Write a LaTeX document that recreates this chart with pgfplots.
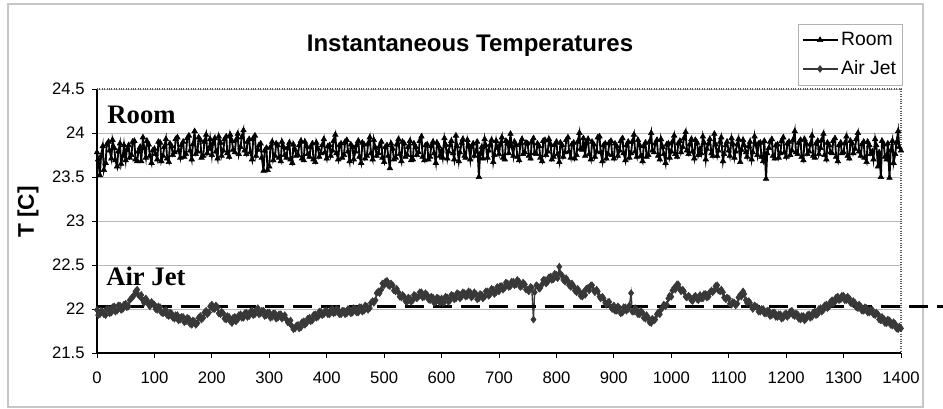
\documentclass[border=0pt]{standalone}
\usepackage{fontspec}
\setmainfont{Liberation Sans}
\newfontfamily\serifbold{Liberation Serif}
\usepackage{pgfplots}
\usepackage{pgfplotstable}
\pgfplotsset{compat=1.18}

% time [s], room temperature, air jet temperature
\pgfplotstableread[row sep=\\]{
x room jet\\
0 23.78 21.99\\ 2 23.70 21.93\\ 5 23.52 21.94\\ 7 23.74 21.98\\
10 23.85 21.97\\ 12 23.58 21.94\\ 15 23.66 21.93\\ 17 23.87 22.00\\
20 23.90 22.00\\ 22 23.80 21.95\\ 25 23.71 21.96\\ 27 23.92 22.02\\
30 23.83 22.03\\ 32 23.69 21.97\\ 35 23.62 21.98\\ 37 23.79 22.04\\
40 23.88 22.04\\ 42 23.65 21.99\\ 45 23.74 22.00\\ 47 23.86 22.05\\
50 23.69 22.06\\ 52 23.81 22.02\\ 55 23.86 22.03\\ 57 23.72 22.10\\
60 23.75 22.12\\ 62 23.90 22.14\\ 65 23.91 22.16\\ 67 23.70 22.20\\
70 23.68 22.22\\ 72 23.79 22.16\\ 75 23.84 22.14\\ 77 23.68 22.16\\
80 23.95 22.10\\ 82 23.83 22.07\\ 85 23.72 22.12\\ 87 23.91 22.10\\
90 23.87 22.05\\ 92 23.74 22.03\\ 95 23.66 22.08\\ 97 23.80 22.06\\
100 23.82 22.05\\ 102 23.76 22.00\\ 105 23.70 21.99\\ 107 23.90 22.03\\
110 23.89 22.02\\ 112 23.68 21.96\\ 115 23.74 21.95\\ 117 23.84 21.98\\
120 23.93 21.99\\ 122 23.71 21.93\\ 125 23.67 21.92\\ 127 23.88 21.96\\
130 23.85 21.95\\ 132 23.75 21.90\\ 135 23.78 21.89\\ 137 23.93 21.93\\
140 23.95 21.93\\ 142 23.80 21.87\\ 145 23.72 21.88\\ 147 23.86 21.91\\
150 23.90 21.91\\ 152 23.73 21.85\\ 155 23.76 21.86\\ 157 23.94 21.90\\
160 23.97 21.89\\ 162 23.80 21.83\\ 165 23.70 21.82\\ 167 23.87 21.87\\
170 24.02 21.86\\ 172 23.76 21.82\\ 175 23.79 21.84\\ 177 23.95 21.90\\
180 23.92 21.92\\ 182 23.72 21.88\\ 185 23.74 21.90\\ 187 23.90 21.96\\
190 23.98 21.98\\ 192 23.77 21.94\\ 195 23.82 21.96\\ 197 23.93 22.03\\
200 23.75 22.05\\ 202 23.88 22.00\\ 205 23.94 22.00\\ 207 23.79 22.04\\
210 23.71 22.02\\ 212 23.96 21.95\\ 215 23.89 21.94\\ 217 23.74 21.97\\
220 23.80 21.95\\ 222 23.93 21.89\\ 225 23.96 21.88\\ 227 23.77 21.92\\
230 23.73 21.91\\ 232 23.98 21.86\\ 235 23.91 21.84\\ 237 23.81 21.90\\
240 23.78 21.91\\ 242 23.92 21.86\\ 245 23.99 21.88\\ 247 23.76 21.93\\
250 23.84 21.94\\ 252 23.95 21.90\\ 255 24.03 21.90\\ 257 23.80 21.95\\
260 23.76 21.96\\ 262 23.90 21.91\\ 265 23.93 21.92\\ 267 23.78 21.97\\
270 23.70 21.98\\ 272 23.94 21.93\\ 275 23.97 21.94\\ 277 23.74 21.99\\
280 23.81 22.01\\ 282 23.86 21.94\\ 285 23.88 21.95\\ 287 23.72 21.98\\
290 23.57 21.98\\ 292 23.80 21.92\\ 295 23.83 21.93\\ 297 23.58 21.96\\
300 23.62 21.96\\ 302 23.84 21.90\\ 305 23.90 21.91\\ 307 23.69 21.95\\
310 23.74 21.95\\ 312 23.88 21.89\\ 315 23.86 21.90\\ 317 23.72 21.94\\
320 23.68 21.94\\ 322 23.90 21.89\\ 325 23.84 21.91\\ 327 23.75 21.93\\
330 23.72 21.88\\ 332 23.83 21.85\\ 335 23.89 21.84\\ 337 23.70 21.87\\
340 23.66 21.80\\ 342 23.87 21.77\\ 345 23.81 21.78\\ 347 23.74 21.81\\
350 23.75 21.82\\ 352 23.86 21.78\\ 355 23.91 21.79\\ 357 23.71 21.85\\
360 23.69 21.86\\ 362 23.90 21.82\\ 365 23.85 21.84\\ 367 23.76 21.89\\
370 23.73 21.90\\ 372 23.84 21.86\\ 375 23.88 21.87\\ 377 23.70 21.93\\
380 23.67 21.94\\ 382 23.89 21.90\\ 385 23.82 21.91\\ 387 23.73 21.97\\
390 23.77 21.97\\ 392 23.86 21.93\\ 395 23.93 21.94\\ 397 23.78 21.98\\
400 23.71 21.98\\ 402 23.85 21.94\\ 405 23.86 21.94\\ 407 23.74 21.99\\
410 23.80 22.00\\ 412 23.91 21.95\\ 415 23.98 21.96\\ 417 23.77 22.00\\
420 23.70 21.99\\ 422 23.86 21.94\\ 425 23.88 21.94\\ 427 23.72 21.98\\
430 23.75 21.98\\ 432 23.90 21.94\\ 435 23.92 21.95\\ 437 23.79 22.00\\
440 23.68 21.99\\ 442 23.87 21.95\\ 445 23.84 21.96\\ 447 23.70 22.01\\
450 23.79 22.00\\ 452 23.86 21.96\\ 455 23.91 21.96\\ 457 23.73 22.02\\
460 23.66 22.02\\ 462 23.89 21.97\\ 465 23.87 21.98\\ 467 23.71 22.04\\
470 23.74 22.03\\ 472 23.88 21.99\\ 475 23.95 22.01\\ 477 23.77 22.07\\
480 23.70 22.09\\ 482 23.92 22.07\\ 485 23.83 22.10\\ 487 23.74 22.18\\
490 23.77 22.20\\ 492 23.85 22.18\\ 495 23.90 22.22\\ 497 23.72 22.29\\
500 23.67 22.27\\ 502 23.84 22.31\\ 505 23.86 22.32\\ 507 23.74 22.27\\
510 23.60 22.26\\ 512 23.88 22.29\\ 515 23.82 22.27\\ 517 23.70 22.21\\
520 23.72 22.20\\ 522 23.87 22.23\\ 525 23.93 22.19\\ 527 23.76 22.14\\
530 23.68 22.13\\ 532 23.90 22.16\\ 535 23.88 22.14\\ 537 23.73 22.09\\
540 23.75 22.08\\ 542 23.84 22.13\\ 545 23.91 22.12\\ 547 23.69 22.08\\
550 23.70 22.10\\ 552 23.88 22.16\\ 555 23.84 22.15\\ 557 23.75 22.12\\
560 23.78 22.14\\ 562 23.91 22.19\\ 565 23.96 22.19\\ 567 23.73 22.13\\
570 23.69 22.14\\ 572 23.86 22.18\\ 575 23.87 22.16\\ 577 23.70 22.11\\
580 23.73 22.10\\ 582 23.85 22.14\\ 585 23.90 22.13\\ 587 23.77 22.07\\
590 23.66 22.08\\ 592 23.89 22.13\\ 595 23.85 22.12\\ 597 23.74 22.07\\
600 23.80 22.12\\ 602 23.72 22.07\\ 605 23.94 22.08\\ 607 23.87 22.14\\
610 23.71 22.13\\ 612 23.79 22.08\\ 615 23.86 22.10\\ 617 23.91 22.16\\
620 23.77 22.15\\ 622 23.70 22.11\\ 625 23.97 22.12\\ 627 23.85 22.18\\
630 23.68 22.17\\ 632 23.78 22.12\\ 635 23.89 22.14\\ 637 23.93 22.19\\
640 23.74 22.18\\ 642 23.72 22.14\\ 645 23.92 22.15\\ 647 23.86 22.20\\
650 23.70 22.19\\ 652 23.84 22.13\\ 655 23.88 22.15\\ 657 23.74 22.19\\
660 23.79 22.17\\ 662 23.90 22.11\\ 665 23.50 22.12\\ 667 23.76 22.17\\
670 23.84 22.16\\ 672 23.71 22.12\\ 675 23.93 22.14\\ 677 23.86 22.20\\
680 23.72 22.20\\ 682 23.80 22.15\\ 685 23.87 22.17\\ 687 23.92 22.23\\
690 23.67 22.22\\ 692 23.75 22.17\\ 695 23.91 22.19\\ 697 23.83 22.25\\
700 23.76 22.20\\ 702 23.87 22.26\\ 705 23.95 22.26\\ 707 23.72 22.22\\
710 23.70 22.24\\ 712 23.91 22.30\\ 715 23.89 22.29\\ 717 23.77 22.25\\
720 23.99 22.26\\ 722 23.85 22.31\\ 725 23.74 22.31\\ 727 23.90 22.27\\
730 23.86 22.28\\ 732 23.73 22.33\\ 735 23.69 22.31\\ 737 23.88 22.25\\
740 23.93 22.26\\ 742 23.76 22.30\\ 745 23.78 22.28\\ 747 23.89 22.22\\
750 23.88 22.22\\ 752 23.74 22.20\\ 755 23.71 22.25\\ 757 23.90 22.24\\
760 23.94 21.88\\ 762 23.77 22.19\\ 765 23.76 22.27\\ 767 23.88 22.26\\
770 23.85 22.23\\ 772 23.72 22.24\\ 775 23.68 22.28\\ 777 23.91 22.33\\
780 23.92 22.33\\ 782 23.75 22.29\\ 785 23.79 22.31\\ 787 23.93 22.36\\
790 23.87 22.37\\ 792 23.70 22.33\\ 795 23.73 22.34\\ 797 23.86 22.40\\
800 23.90 22.39\\ 802 23.76 22.35\\ 805 23.67 22.48\\ 807 23.89 22.40\\
810 23.86 22.38\\ 812 23.73 22.33\\ 815 23.78 22.31\\ 817 23.92 22.35\\
820 23.95 22.32\\ 822 23.79 22.27\\ 825 23.72 22.25\\ 827 23.87 22.29\\
830 23.89 22.26\\ 832 23.71 22.21\\ 835 23.75 22.19\\ 837 23.90 22.23\\
840 24.00 22.20\\ 842 23.82 22.15\\ 845 23.81 22.14\\ 847 23.94 22.19\\
850 23.74 22.16\\ 852 23.88 22.23\\ 855 23.93 22.24\\ 857 23.76 22.21\\
860 23.70 22.27\\ 862 23.90 22.27\\ 865 23.87 22.21\\ 867 23.73 22.19\\
870 23.79 22.22\\ 872 23.95 22.20\\ 875 23.96 22.14\\ 877 23.78 22.12\\
880 23.68 22.14\\ 882 23.86 22.12\\ 885 23.88 22.07\\ 887 23.71 22.05\\
890 23.76 22.08\\ 892 23.89 22.08\\ 895 23.91 22.02\\ 897 23.75 22.00\\
900 23.71 22.04\\ 902 23.88 21.98\\ 905 23.85 21.98\\ 907 23.74 22.03\\
910 23.80 22.01\\ 912 23.91 21.95\\ 915 23.94 21.96\\ 917 23.77 22.02\\
920 23.69 22.02\\ 922 23.86 21.98\\ 925 23.90 22.00\\ 927 23.72 22.04\\
930 23.77 22.18\\ 932 23.90 21.97\\ 935 23.98 21.97\\ 937 23.79 22.01\\
940 23.73 21.99\\ 942 23.92 21.94\\ 945 23.86 21.94\\ 947 23.74 21.98\\
950 23.68 21.96\\ 952 23.85 21.90\\ 955 23.89 21.89\\ 957 23.73 21.93\\
960 23.75 21.90\\ 962 23.90 21.85\\ 965 24.00 21.84\\ 967 23.80 21.89\\
970 23.78 21.87\\ 972 23.88 21.88\\ 975 23.92 21.94\\ 977 23.74 21.96\\
980 23.70 21.94\\ 982 23.93 21.99\\ 985 23.84 22.02\\ 987 23.76 22.05\\
990 23.66 22.03\\ 992 23.87 22.05\\ 995 23.88 22.12\\ 997 23.72 22.15\\
1000 23.79 22.14\\ 1002 23.90 22.21\\ 1005 23.97 22.24\\ 1007 23.76 22.22\\
1010 23.73 22.28\\ 1012 23.88 22.28\\ 1015 23.91 22.23\\ 1017 23.78 22.20\\
1020 23.84 22.22\\ 1022 23.94 22.20\\ 1025 24.01 22.14\\ 1027 23.80 22.13\\
1030 23.76 22.15\\ 1032 23.87 22.14\\ 1035 23.93 22.10\\ 1037 23.79 22.09\\
1040 23.71 22.14\\ 1042 23.92 22.15\\ 1045 23.89 22.11\\ 1047 23.75 22.10\\
1050 23.82 22.16\\ 1052 23.77 22.12\\ 1055 23.96 22.12\\ 1057 23.89 22.17\\
1060 23.70 22.17\\ 1062 23.82 22.13\\ 1065 23.88 22.14\\ 1067 23.93 22.19\\
1070 23.77 22.21\\ 1072 23.74 22.19\\ 1075 23.99 22.21\\ 1077 23.87 22.26\\
1080 23.74 22.27\\ 1082 23.80 22.21\\ 1085 23.90 22.20\\ 1087 23.95 22.22\\
1090 23.68 22.19\\ 1092 23.76 22.13\\ 1095 23.86 22.11\\ 1097 23.90 22.13\\
1100 23.80 22.12\\ 1102 23.74 22.06\\ 1105 23.94 22.05\\ 1107 23.88 22.08\\
1110 23.72 22.07\\ 1112 23.79 22.04\\ 1115 23.87 22.06\\ 1117 23.93 22.13\\
1120 23.67 22.16\\ 1122 23.81 22.14\\ 1125 23.92 22.20\\ 1127 23.86 22.17\\
1130 23.78 22.10\\ 1132 23.73 22.07\\ 1135 23.85 22.09\\ 1137 23.90 22.07\\
1140 23.70 22.02\\ 1142 23.78 22.00\\ 1145 23.96 22.04\\ 1147 23.87 22.03\\
1150 23.75 22.02\\ 1152 23.88 21.97\\ 1155 23.89 21.97\\ 1157 23.73 22.00\\
1160 23.68 22.00\\ 1162 23.91 21.95\\ 1165 23.48 21.95\\ 1167 23.77 21.98\\
1170 23.83 21.98\\ 1172 23.90 21.92\\ 1175 23.93 21.93\\ 1177 23.74 21.96\\
1180 23.71 21.96\\ 1182 23.86 21.91\\ 1185 23.87 21.91\\ 1187 23.72 21.94\\
1190 23.77 21.94\\ 1192 23.91 21.89\\ 1195 23.95 21.90\\ 1197 23.78 21.94\\
1200 23.73 21.95\\ 1202 23.88 21.91\\ 1205 23.90 21.93\\ 1207 23.75 21.97\\
1210 23.80 21.98\\ 1212 23.92 21.93\\ 1215 24.02 21.92\\ 1217 23.78 21.95\\
1220 23.76 21.94\\ 1222 23.89 21.89\\ 1225 23.92 21.88\\ 1227 23.73 21.92\\
1230 23.69 21.92\\ 1232 23.93 21.87\\ 1235 23.88 21.89\\ 1237 23.76 21.93\\
1240 23.79 21.94\\ 1242 23.87 21.90\\ 1245 23.97 21.91\\ 1247 23.74 21.96\\
1250 23.72 21.97\\ 1252 23.88 21.93\\ 1255 23.91 21.94\\ 1257 23.76 22.00\\
1260 23.83 22.01\\ 1262 23.92 21.97\\ 1265 23.99 21.99\\ 1267 23.75 22.04\\
1270 23.70 22.05\\ 1272 23.89 22.01\\ 1275 23.86 22.03\\ 1277 23.78 22.08\\
1280 23.77 22.10\\ 1282 23.91 22.06\\ 1285 23.94 22.08\\ 1287 23.73 22.13\\
1290 23.68 22.14\\ 1292 23.86 22.10\\ 1295 23.89 22.11\\ 1297 23.77 22.15\\
1300 23.78 22.15\\ 1302 23.88 22.10\\ 1305 23.96 22.10\\ 1307 23.74 22.14\\
1310 23.71 22.12\\ 1312 23.91 22.07\\ 1315 23.88 22.06\\ 1317 23.77 22.09\\
1320 23.82 22.07\\ 1322 23.93 22.02\\ 1325 24.00 22.01\\ 1327 23.79 22.05\\
1330 23.74 22.03\\ 1332 23.87 21.98\\ 1335 23.90 21.98\\ 1337 23.72 22.02\\
1340 23.67 22.01\\ 1342 23.90 21.96\\ 1345 23.86 21.96\\ 1347 23.76 21.99\\
1350 23.79 21.99\\ 1352 23.70 21.94\\ 1355 23.93 21.93\\ 1357 23.86 21.96\\
1360 23.62 21.94\\ 1362 23.78 21.88\\ 1365 23.50 21.87\\ 1367 23.91 21.91\\
1370 23.87 21.89\\ 1372 23.73 21.84\\ 1375 23.70 21.84\\ 1377 23.88 21.88\\
1380 23.49 21.87\\ 1382 23.80 21.82\\ 1385 23.91 21.81\\ 1387 23.66 21.85\\
1390 23.76 21.83\\ 1392 23.89 21.78\\ 1395 24.02 21.77\\ 1397 23.84 21.80\\
1400 23.80 21.78\\
}\temps

\begin{document}
\begin{tikzpicture}
% page frame = 943 x 409 px at 0.75pt per px
\useasboundingbox (0,0) rectangle (707.25pt,306.75pt);
\draw[gray!45, line width=0.8pt] (6pt,1.5pt) rectangle (692.25pt,303.75pt);
\node[anchor=base, font=\bfseries\fontsize{18}{21}\selectfont] at (352.5pt,267.75pt) {Instantaneous Temperatures};
\node[rotate=90, font=\bfseries\fontsize{17}{20}\selectfont] at (21pt,147.75pt) {T [C]};
\begin{axis}[
    at={(72.75pt,42pt)}, anchor=south west,
    width=603pt, height=198pt, scale only axis,
    xmin=0, xmax=1400, ymin=21.5, ymax=24.5,
    xtick={0,100,...,1400},
    ytick={21.5,22,22.5,23,23.5,24,24.5},
    axis x line*=bottom, axis y line*=left,
    axis line style={-, black, line width=0.8pt},
    tick align=outside, major tick length=3.75pt,
    tick style={black, line width=0.6pt},
    ymajorgrids,
    grid style={gray!55, line width=0.7pt},
    ticklabel style={font=\fontsize{12.5}{15}\selectfont},
    xticklabel style={yshift=-7pt},
    yticklabel style={xshift=-2pt},
    /pgf/number format/assume math mode=true,
    /pgf/number format/1000 sep={},
    clip=false,
    legend style={at={(0.872,1.246)}, anchor=north west, draw=gray!60,
        font=\fontsize{14.5}{17}\selectfont, cells={anchor=west},
        inner xsep=2.5pt, inner ysep=4pt, row sep=6pt},
    legend image code/.code={\draw[mark repeat=2,mark phase=2,#1]
        plot coordinates {(0cm,0cm) (0.46cm,0cm) (0.92cm,0cm)};},
]
\draw[gray!70!black, densely dotted, line width=0.8pt] (rel axis cs:0,1) -- (rel axis cs:1,1) -- (rel axis cs:1,0);
\addplot[black, line width=1.4pt, mark=triangle*, mark size=2.4pt,
    mark options={line width=0.4pt}] table[x=x, y=room] {\temps};
\addlegendentry{Room}
\addplot[black!78, line width=1pt, mark=diamond*, mark size=2.6pt,
    mark options={line width=0.4pt}] table[x=x, y=jet] {\temps};
\addlegendentry{Air Jet}
\draw[black, line width=1.8pt, dash pattern=on 14pt off 7pt] (axis cs:0,22.03) -- (axis cs:1475,22.03);
\node[anchor=base west, font=\serifbold\bfseries\fontsize{20}{22}\selectfont] at (axis cs:10,24.11) {Room};
\node[anchor=base west, font=\serifbold\bfseries\fontsize{20}{22}\selectfont] at (axis cs:8,22.27) {Air Jet};
\end{axis}
\end{tikzpicture}
\end{document}
